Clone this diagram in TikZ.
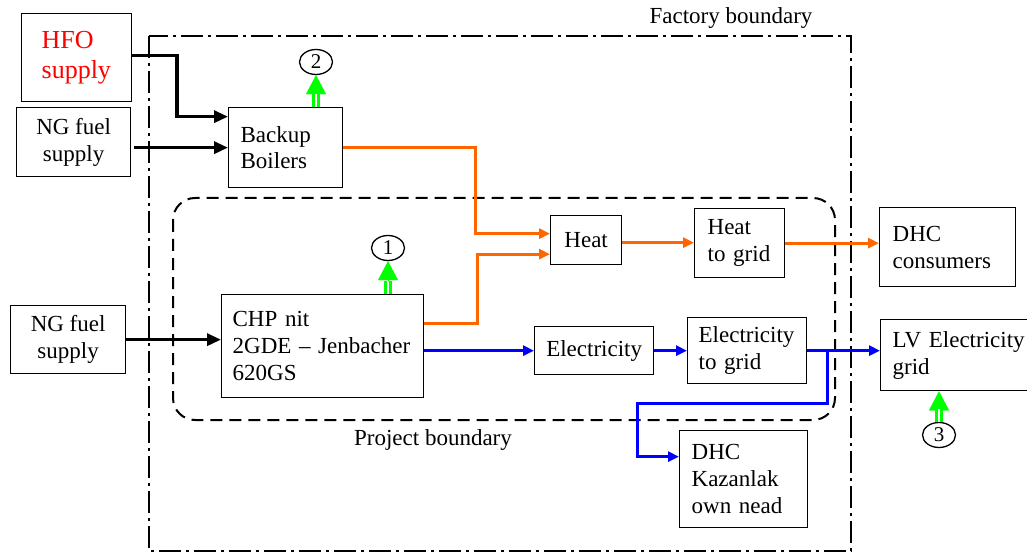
\documentclass[tikz,border=0pt]{standalone}
\usepackage{fontspec}
\setmainfont{Liberation Serif}
\usetikzlibrary{arrows.meta,shapes.geometric}
\definecolor{orng}{HTML}{FF6600}
\definecolor{grn}{HTML}{00FF00}
\definecolor{blu}{HTML}{0000FF}
\begin{document}
\begin{tikzpicture}[x=1pt,y=-1pt,font=\fontsize{23}{27}\selectfont,
  box/.style={draw,line width=1.3pt,fill=white,inner ysep=0pt,anchor=north west},
  lbox/.style={box,align=left},
  cbox/.style={box,align=center,inner xsep=0pt},
  circ/.style={ellipse,draw,line width=1.3pt,minimum width=33pt,minimum height=25pt,inner sep=0pt,font=\fontsize{21}{21}\selectfont},
  blk/.style={line width=3.3pt,-{Triangle[length=14pt,width=12pt]}},
  orflow/.style={draw=orng,line width=3pt,-{Triangle[length=11pt,width=10pt]}},
  blflow/.style={draw=blu,line width=3pt,-{Triangle[length=11pt,width=10pt]}},
  gshaft/.style={draw=grn,double=white,double distance=2.2pt,line width=2.8pt},
  ghead/.style={draw=grn,line width=0.1pt,-{Triangle[length=19pt,width=20pt]}},
  factory/.style={line width=2pt,dash pattern=on 22pt off 5pt on 3pt off 5pt},
  project/.style={line width=2pt,dash pattern=on 12pt off 7pt,rounded corners=22pt}]
\useasboundingbox (0,0) rectangle (1027,553);

% boundaries
\draw[factory] (149,36) rectangle (851,551);
\draw[project] (173,198) rectangle (835,420);
\node (flabel) at (731,18) {Factory boundary};
\node (plabel) at (433,440) {Project boundary};

% boxes
\node[lbox,text width=70pt,inner xsep=20pt,minimum height=88pt,text=red,font=\fontsize{26}{30}\selectfont] (hfo) at (21,13) {HFO\\supply};
\node[cbox,minimum width=114pt,minimum height=69pt] (ngtop) at (16,107) {NG fuel\\supply};
\node[lbox,text width=90pt,inner xsep=12pt,minimum height=80pt] (backup) at (228,107) {Backup\\[-1pt]Boilers\\[-2pt]};
\node[lbox,text width=180pt,inner xsep=11pt,minimum height=103pt] (chp) at (221,294) {CHP nit\\2GDE -- Jenbacher\\620GS};
\node[cbox,minimum width=115pt,minimum height=68pt] (nglow) at (10,305) {NG fuel\\supply};
\node[cbox,minimum width=71pt,minimum height=49pt] (heat) at (550,215) {Heat};
\node[lbox,text width=64pt,inner xsep=13pt,minimum height=69pt] (hgrid) at (694,208) {Heat\\to grid};
\node[lbox,text width=110pt,inner xsep=13pt,minimum height=79pt] (dhc) at (879,207) {DHC\\consumers};
\node[cbox,minimum width=119pt,minimum height=48pt] (elec) at (534,326) {Electricity};
\node[lbox,text width=97pt,inner xsep=11pt,minimum height=66pt] (egrid) at (687,317) {Electricity\\to grid};
\node[lbox,text width=140pt,inner xsep=12pt,minimum height=71pt] (lv) at (880,319) {LV Electricity\\grid};
\node[lbox,text width=104pt,inner xsep=12pt,minimum height=97pt] (dhck) at (679,430) {DHC\\Kazanlak\\own nead};

% markers
\node[circ] (c1) at (388,248) {1};
\node[circ] (c2) at (316,62) {2};
\node[circ] (c3) at (939,435) {3};

% fuel inputs
\draw[blk] ([yshift=2pt]hfo.east) -| ([xshift=-51pt,yshift=31pt]backup.west) -- ([yshift=31pt]backup.west);
\draw[blk] ([xshift=3pt]ngtop.east |- backup.west) -- (backup.west);
\draw[blk] (nglow.east) -- (nglow.east -| chp.west);

% heat
\draw[orflow] (backup.east) -| ([xshift=-75pt,yshift=6.5pt]heat.west) -- ([yshift=6.5pt]heat.west);
\draw[orflow] ([yshift=22.5pt]chp.east) -| ([xshift=-73pt,yshift=-14pt]heat.west) -- ([yshift=-14pt]heat.west);
\draw[orflow] ([yshift=-2.5pt]heat.east) -- ([yshift=-2.5pt]heat.east -| hgrid.west);
\draw[orflow] (hgrid.east) -- (hgrid.east -| dhc.west);

% electricity
\draw[blflow] (chp.east |- elec.west) -- (elec.west);
\draw[blflow] (elec.east) -- (egrid.west);
\draw[blflow] (egrid.east) -- (egrid.east -| lv.west);
\coordinate (br) at ([xshift=20pt]egrid.east);
\draw[blflow] (br) -- ++(0,53) -| ([xshift=-42pt,yshift=22.5pt]dhck.west) -- ([yshift=22.5pt]dhck.west);

% green indicators
\draw[ghead] (chp.north -| c1.south) -- (c1.south);
\draw[gshaft] (chp.north -| c1.south) -- ++(0,-13);
\draw[ghead] (backup.north -| c2.south) -- (c2.south);
\draw[gshaft] (backup.north -| c2.south) -- ++(0,-13);
\draw[ghead] (c3.north) -- (lv.south -| c3.north);
\draw[gshaft] (c3.north) -- ++(0,-13);
\end{tikzpicture}
\end{document}
